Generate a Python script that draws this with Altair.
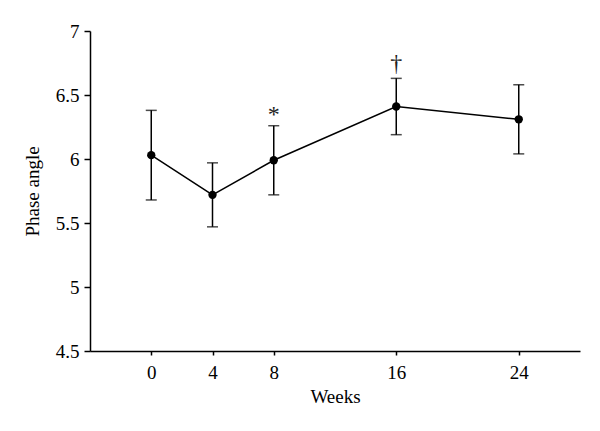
import altair as alt
import pandas as pd

weeks = [0, 4, 8, 16, 24]
phase_angle = [6.03, 5.72, 5.99, 6.41, 6.31]
upper = [6.38, 5.97, 6.26, 6.63, 6.58]
lower = [5.68, 5.47, 5.72, 6.19, 6.04]

note_weeks = [8, 16]
note_y = [6.34, 6.74]
note_text = ["*", "\u2020"]

df = pd.DataFrame({"week": weeks, "mean": phase_angle, "hi": upper, "lo": lower})
notes = pd.DataFrame({"week": note_weeks, "y": note_y, "t": note_text})

FONT = "Liberation Serif"

xs = alt.Scale(domain=[-4, 28], nice=False, zero=False)
ys = alt.Scale(domain=[4.5, 7], nice=False, zero=False)

x_axis = alt.Axis(values=weeks, title="Weeks", grid=False, tickSize=4,
                  labelPadding=8, titlePadding=5)
y_axis = alt.Axis(values=[4.5, 5, 5.5, 6, 6.5, 7], title="Phase angle", grid=False,
                  tickSize=6, labelPadding=5, titlePadding=13, format="~g")

base = alt.Chart(df)

rules = base.mark_rule(color="black", strokeWidth=1.5).encode(
    x=alt.X("week:Q", scale=xs, axis=x_axis),
    y=alt.Y("lo:Q", scale=ys, axis=y_axis),
    y2="hi:Q",
)
cap_hi = base.mark_tick(color="black", thickness=1.5, size=11, orient="horizontal").encode(
    x=alt.X("week:Q", scale=xs), y=alt.Y("hi:Q", scale=ys)
)
cap_lo = base.mark_tick(color="black", thickness=1.5, size=11, orient="horizontal").encode(
    x=alt.X("week:Q", scale=xs), y=alt.Y("lo:Q", scale=ys)
)
line = base.mark_line(color="black", strokeWidth=1.5).encode(
    x=alt.X("week:Q", scale=xs), y=alt.Y("mean:Q", scale=ys)
)
pts = base.mark_circle(color="black", size=70, opacity=1).encode(
    x=alt.X("week:Q", scale=xs), y=alt.Y("mean:Q", scale=ys)
)
txt = alt.Chart(notes).mark_text(font=FONT, fontSize=24).encode(
    x=alt.X("week:Q", scale=xs), y=alt.Y("y:Q", scale=ys), text="t:N",
    fill=alt.value("#222222"),
)

chart = (rules + cap_hi + cap_lo + line + pts + txt).properties(
    width=490, height=320,
    autosize=alt.AutoSizeParams(type="none"),
    padding={"left": 82, "top": 23, "right": 10, "bottom": 80},
).configure_view(stroke=None).configure_axis(
    domainColor="black", domainWidth=1.5, tickColor="black", tickWidth=1.5,
    labelFont=FONT, titleFont=FONT, labelFontSize=19, titleFontSize=19,
    labelColor="black", titleColor="black", titleFontWeight="normal",
)

chart.save("out.html", embed_options={"renderer": "svg", "actions": False})
